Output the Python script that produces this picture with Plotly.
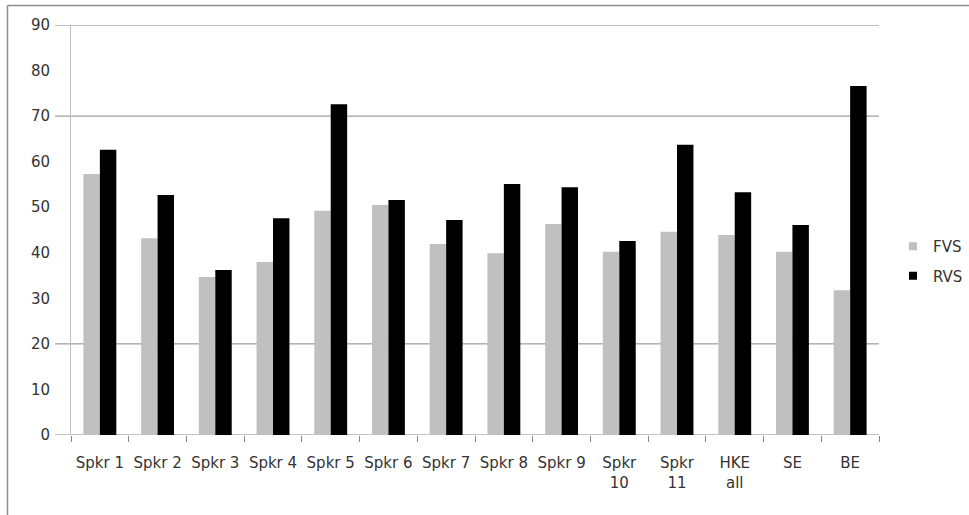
import plotly.graph_objects as go

# Categories and per-speaker scores
speakers = ["Spkr 1", "Spkr 2", "Spkr 3", "Spkr 4", "Spkr 5", "Spkr 6", "Spkr 7",
            "Spkr 8", "Spkr 9", "Spkr<br>10", "Spkr<br>11", "HKE<br>all", "SE", "BE"]
fvs = [57.3, 43.2, 34.7, 38.0, 49.2, 50.5, 41.9, 39.9, 46.3, 40.2, 44.6, 43.9, 40.2, 31.8]
rvs = [62.6, 52.7, 36.2, 47.6, 72.6, 51.6, 47.2, 55.1, 54.4, 42.6, 63.7, 53.3, 46.1, 76.6]
y_ticks = [0, 10, 20, 30, 40, 50, 60, 70, 80, 90]
grid_values = [0, 20, 70, 90]

W, H = 969, 515
L, R, T, B = 71, 90, 25, 80
plot_w = W - L - R
plot_h = H - T - B


def px_x(px):
    return (px - L) / plot_w


def px_y(py):
    return (H - B - py) / plot_h


fig = go.Figure()
fig.add_trace(go.Bar(x=speakers, y=fvs, name="FVS", marker_color="#c0c0c0",
                     marker_line_width=0, showlegend=False))
fig.add_trace(go.Bar(x=speakers, y=rvs, name="RVS", marker_color="#000000",
                     marker_line_width=0, showlegend=False))

# Legend entries with small square swatches
for name, color in [("FVS", "#c0c0c0"), ("RVS", "#000000")]:
    fig.add_trace(go.Scatter(x=[None], y=[None], mode="markers", name=name,
                             legendgroup=name,
                             marker=dict(symbol="square", size=8, color=color)))

shapes = []
# Horizontal rules with short stubs left of the value axis
for v in grid_values:
    shapes.append(dict(type="line", xref="paper", yref="y", layer="below",
                       x0=px_x(55), x1=1, y0=v, y1=v,
                       line=dict(color="#868686", width=1)))
# Outer chart frame (left and top edges)
shapes.append(dict(type="line", xref="paper", yref="paper",
                   x0=px_x(7.5), x1=px_x(7.5), y0=px_y(5.5), y1=px_y(H + 5),
                   line=dict(color="#8c8c8c", width=1.5)))
shapes.append(dict(type="line", xref="paper", yref="paper",
                   x0=px_x(7.5), x1=px_x(W + 5), y0=px_y(5.5), y1=px_y(5.5),
                   line=dict(color="#8c8c8c", width=1.5)))

fig.update_layout(
    width=W, height=H,
    margin=dict(l=L, r=R, t=T, b=B, autoexpand=False),
    paper_bgcolor="white", plot_bgcolor="white",
    barmode="group", bargap=0.43, bargroupgap=0,
    font=dict(family="DejaVu Sans", size=15, color="#333333"),
    shapes=shapes,
    legend=dict(x=px_x(893), xanchor="left", y=px_y(261), yanchor="middle",
                font=dict(size=15, color="#333333"), tracegroupgap=7,
                itemwidth=30, bgcolor="rgba(0,0,0,0)"),
    xaxis=dict(type="category", tickson="boundaries", ticks="outside", ticklen=6,
               tickcolor="#888888", showgrid=False, showline=False, tickangle=0,
               ticklabelstandoff=17, tickfont=dict(size=15, color="#333333")),
    yaxis=dict(range=[0, 90], tickvals=y_ticks, showgrid=False, zeroline=False,
               ticks="", showline=True, linecolor="#c0c0c0", linewidth=1,
               ticklabelstandoff=17, tickfont=dict(size=15, color="#333333")),
)

fig.write_html("out.html")
